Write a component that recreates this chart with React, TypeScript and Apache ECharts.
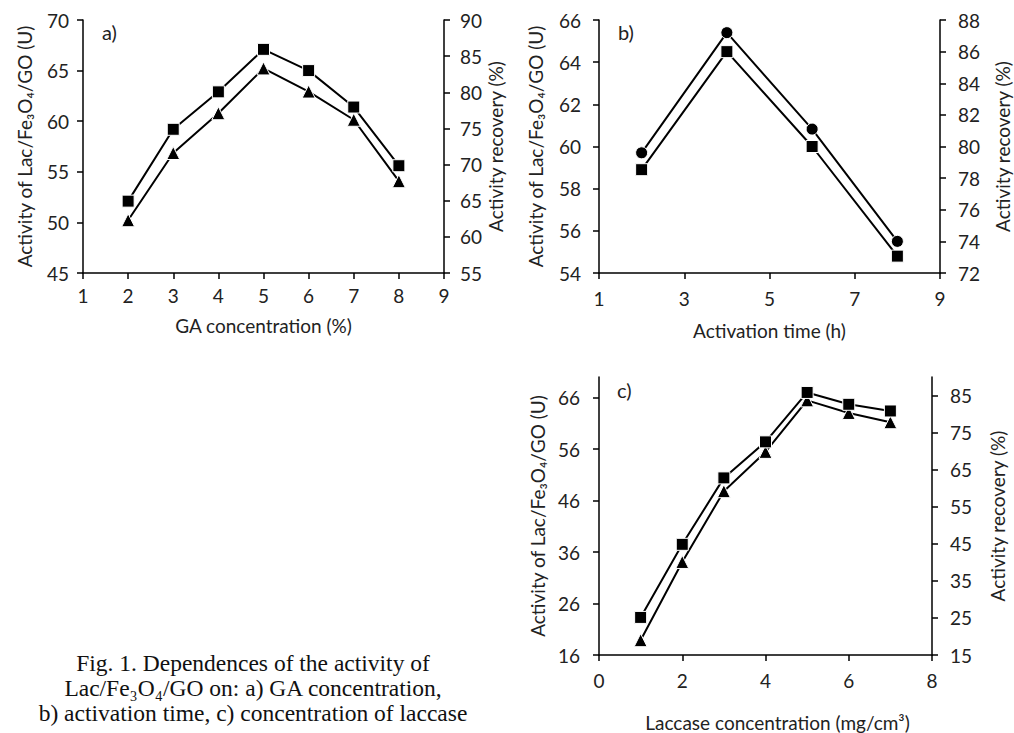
import React, { useEffect, useRef } from "react";
import * as echarts from "echarts";

// Panel a: GA concentration
const gaConc = [2, 3, 4, 5, 6, 7, 8];
const gaActivity = [52.1, 59.2, 62.9, 67.1, 65.0, 61.4, 55.6];
const gaRecovery = [62.3, 71.6, 77.1, 83.3, 80.1, 76.2, 67.7];

// Panel b: activation time
const actTime = [2, 4, 6, 8];
const actActivity = [58.9, 64.5, 60.0, 54.8];
const actRecovery = [79.6, 87.2, 81.1, 74.0];
const actXTicks = [1, 3, 5, 7, 9];

// Panel c: laccase concentration
const lacConc = [1, 2, 3, 4, 5, 6, 7];
const lacActivity = [23.3, 37.5, 50.4, 57.4, 67.0, 64.7, 63.4];
const lacRecovery = [19.0, 40.1, 59.2, 69.8, 83.7, 80.3, 77.8];
const lacLeftTicks = [16, 26, 36, 46, 56, 66];
const lacRightTicks = [15, 25, 35, 45, 55, 65, 75, 85];

const leftTitle = "Activity of Lac/Fe₃O₄/GO (U)";
const rightTitle = "Activity recovery (%)";
const captionLines = [
  "Fig. 1. Dependences of the activity of",
  "Lac/Fe₃O₄/GO on: a) GA concentration,",
  "b) activation time, c) concentration of laccase",
];

const FONT = "Lato, 'Open Sans', sans-serif";
const FS = 19;

const pairs = (xs: number[], ys: number[]) => xs.map((x, i) => [x, ys[i]]);

export default function App() {
  const ref = useRef<HTMLDivElement>(null);
  useEffect(() => {
    if (!ref.current) return;
    const chart = echarts.init(ref.current, undefined, { renderer: "svg" });
    const axisLine = { show: true, onZero: false, lineStyle: { color: "#000", width: 1.5 } };
    const axisTick = { show: true, length: 6, lineStyle: { color: "#000", width: 1.5 } };
    const label = (margin: number) => ({ color: "#222", fontSize: FS, fontFamily: FONT, margin });
    const nameStyle = { color: "#222", fontSize: FS, fontFamily: FONT };

    const xAx = (gridIndex: number, min: number, max: number, interval: number | undefined, name: string, nameGap: number, margin: number, custom?: number[], extra?: any) => ({
      type: "value",
      gridIndex,
      min,
      max,
      interval,
      name,
      nameLocation: "middle",
      nameGap,
      nameTextStyle: { ...nameStyle, ...(extra || {}) },
      axisLine,
      axisTick: custom ? { ...axisTick, customValues: custom } : axisTick,
      axisLabel: custom ? { ...label(margin), customValues: custom } : label(margin),
      splitLine: { show: false },
    });
    const yAx = (gridIndex: number, position: string, min: number, max: number, interval: number | undefined, name: string, nameGap: number, margin: number, custom?: number[]) => ({
      type: "value",
      gridIndex,
      position,
      min,
      max,
      interval,
      name,
      nameLocation: "middle",
      nameRotate: 90,
      nameGap,
      nameTextStyle: nameStyle,
      axisLine,
      axisTick: custom ? { ...axisTick, customValues: custom } : axisTick,
      axisLabel: custom ? { ...label(margin), customValues: custom } : label(margin),
      splitLine: { show: false },
    });

    const line = (xAxisIndex: number, yAxisIndex: number, data: number[][], symbol: string, symbolSize: number, z = 2) => ({
      type: "line",
      xAxisIndex,
      yAxisIndex,
      data,
      symbol,
      symbolSize,
      showAllSymbol: true,
      z,
      lineStyle: { color: "#000", width: 2 },
      itemStyle: { color: "#000", borderColor: "#fff", borderWidth: 1 },
    });

    chart.setOption({
      animation: false,
      backgroundColor: "#fff",
      grid: [
        { left: 83, top: 20, width: 361, height: 253 },
        { left: 599, top: 20, width: 341, height: 253 },
        { left: 599, top: 377, width: 333, height: 278 },
      ],
      xAxis: [
        xAx(0, 1, 9, 1, "GA concentration (%)", 43, 13),
        xAx(1, 1, 9, undefined, "Activation time (h)", 48, 16, actXTicks),
        xAx(2, 0, 8, 2, "Laccase concentration (mg/cm³)", 58, 16, undefined, { padding: [0, 0, 0, 24] }),
      ],
      yAxis: [
        yAx(0, "left", 45, 70, 5, leftTitle, 49, 14),
        yAx(0, "right", 55, 90, 5, rightTitle, 41, 16),
        yAx(1, "left", 54, 66, 2, leftTitle, 54, 18),
        yAx(1, "right", 72, 88, 2, rightTitle, 53, 18),
        yAx(2, "left", 16, 70, undefined, leftTitle, 52, 19, lacLeftTicks),
        yAx(2, "right", 15, 90, undefined, rightTitle, 56, 18, lacRightTicks),
      ],
      graphic: [
        { type: "text", left: 102, top: 22, style: { text: "a)", fontSize: 20, fontFamily: FONT, fill: "#222" } },
        { type: "text", left: 618, top: 22, style: { text: "b)", fontSize: 20, fontFamily: FONT, fill: "#222" } },
        { type: "text", left: 617, top: 380, style: { text: "c)", fontSize: 20, fontFamily: FONT, fill: "#222" } },
        ...captionLines.map((t, i) => ({
          type: "text",
          x: 253,
          y: 663 + i * 25,
          style: {
            text: t,
            fontSize: 23.5,
            fontFamily: "'Liberation Serif', 'Times New Roman', serif",
            fill: "#111",
            textAlign: "center",
            textVerticalAlign: "middle",
          },
        })),
      ],
      series: [
        line(0, 0, pairs(gaConc, gaActivity), "rect", 12),
        line(0, 1, pairs(gaConc, gaRecovery), "triangle", 13),
        line(1, 2, pairs(actTime, actActivity), "rect", 12),
        line(1, 3, pairs(actTime, actRecovery), "circle", 12, 3),
        line(2, 4, pairs(lacConc, lacActivity), "rect", 12, 3),
        line(2, 5, pairs(lacConc, lacRecovery), "triangle", 13),
      ],
    });
    return () => chart.dispose();
  }, []);
  return (
    <div
      ref={ref}
      style={{ position: "fixed", left: 0, top: 0, width: 1014, height: 733, background: "#fff" }}
    />
  );
}
